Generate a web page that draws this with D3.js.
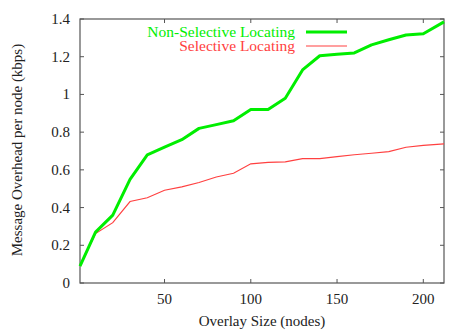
<!DOCTYPE html>
<html><head><meta charset="utf-8">
<script src="https://cdn.jsdelivr.net/npm/d3@7"></script>
<style>body{margin:0;background:#fff}svg{display:block}</style>
</head><body>
<svg id="c" width="471" height="330"></svg>
<script>
const xValues = [1,10,20,30,40,50,60,70,80,90,100,110,120,130,140,150,160,170,180,190,200,212];
const nonSelective = [0.09,0.27,0.36,0.55,0.68,0.72,0.76,0.82,0.84,0.86,0.92,0.92,0.98,1.13,1.205,1.213,1.22,1.263,1.29,1.315,1.322,1.385];
const selective = [0.09,0.262,0.32,0.432,0.452,0.492,0.51,0.533,0.562,0.582,0.632,0.64,0.642,0.66,0.66,0.67,0.68,0.688,0.697,0.72,0.73,0.738];
const xTicks = [50,100,150,200];
const yTicks = [0,0.2,0.4,0.6,0.8,1,1.2,1.4];
const seriesNames = ["Non-Selective Locating","Selective Locating"];

const svg = d3.select("#c");
const L=80,R=444,T=19,B=283;
const x = d3.scaleLinear().domain([1,212]).range([L,R]);
const y = d3.scaleLinear().domain([0,1.4]).range([B,T]);
const axisColor = "#555";
const FONT = '"Liberation Serif"';
const txt = (sel)=>sel.append("text").style("font-family",FONT);

svg.append("rect").attr("x",L).attr("y",T).attr("width",R-L).attr("height",B-T)
  .attr("fill","none").attr("stroke",axisColor).attr("stroke-width",1.2);

const tl=4;
yTicks.forEach(v=>{
  const yy=y(v);
  svg.append("line").attr("x1",L).attr("x2",L+tl).attr("y1",yy).attr("y2",yy).attr("stroke",axisColor);
  svg.append("line").attr("x1",R).attr("x2",R-tl).attr("y1",yy).attr("y2",yy).attr("stroke",axisColor);
  txt(svg).attr("x",L-10).attr("y",yy+5).attr("text-anchor","end")
    .style("font-size","15px").attr("fill","#222")
    .text(d3.format("~g")(v));
});
xTicks.forEach(v=>{
  const xx=x(v);
  svg.append("line").attr("x1",xx).attr("x2",xx).attr("y1",B).attr("y2",B-tl).attr("stroke",axisColor);
  svg.append("line").attr("x1",xx).attr("x2",xx).attr("y1",T).attr("y2",T+tl).attr("stroke",axisColor);
  txt(svg).attr("x",xx).attr("y",304).attr("text-anchor","middle")
    .style("font-size","15px").attr("fill","#222").text(v);
});

txt(svg).attr("x",262).attr("y",326).attr("text-anchor","middle")
  .style("font-size","15px").attr("fill","#222").text("Overlay Size (nodes)");
txt(svg).attr("transform",`translate(22,150) rotate(-90)`).attr("text-anchor","middle")
  .style("font-size","15px").attr("fill","#222").text("Message Overhead per node (kbps)");

const line = d3.line().x((d,i)=>x(xValues[i])).y(d=>y(d));
svg.append("path").datum(selective).attr("d",line).attr("fill","none")
  .attr("stroke","#ff4040").attr("stroke-width",1.2);
svg.append("path").datum(nonSelective).attr("d",line).attr("fill","none")
  .attr("stroke","#00ee00").attr("stroke-width",3).attr("stroke-linejoin","round");

const leg=[{name:seriesNames[0],color:"#00ee00",w:3,yy:32},{name:seriesNames[1],color:"#ff4040",w:1.2,yy:46}];
leg.forEach(d=>{
  txt(svg).attr("x",295).attr("y",d.yy+5).attr("text-anchor","end")
    .style("font-size","15.5px").attr("fill",d.color).text(d.name);
  svg.append("line").attr("x1",306).attr("x2",347).attr("y1",d.yy).attr("y2",d.yy)
    .attr("stroke",d.color).attr("stroke-width",d.w);
});
</script>
</body></html>
